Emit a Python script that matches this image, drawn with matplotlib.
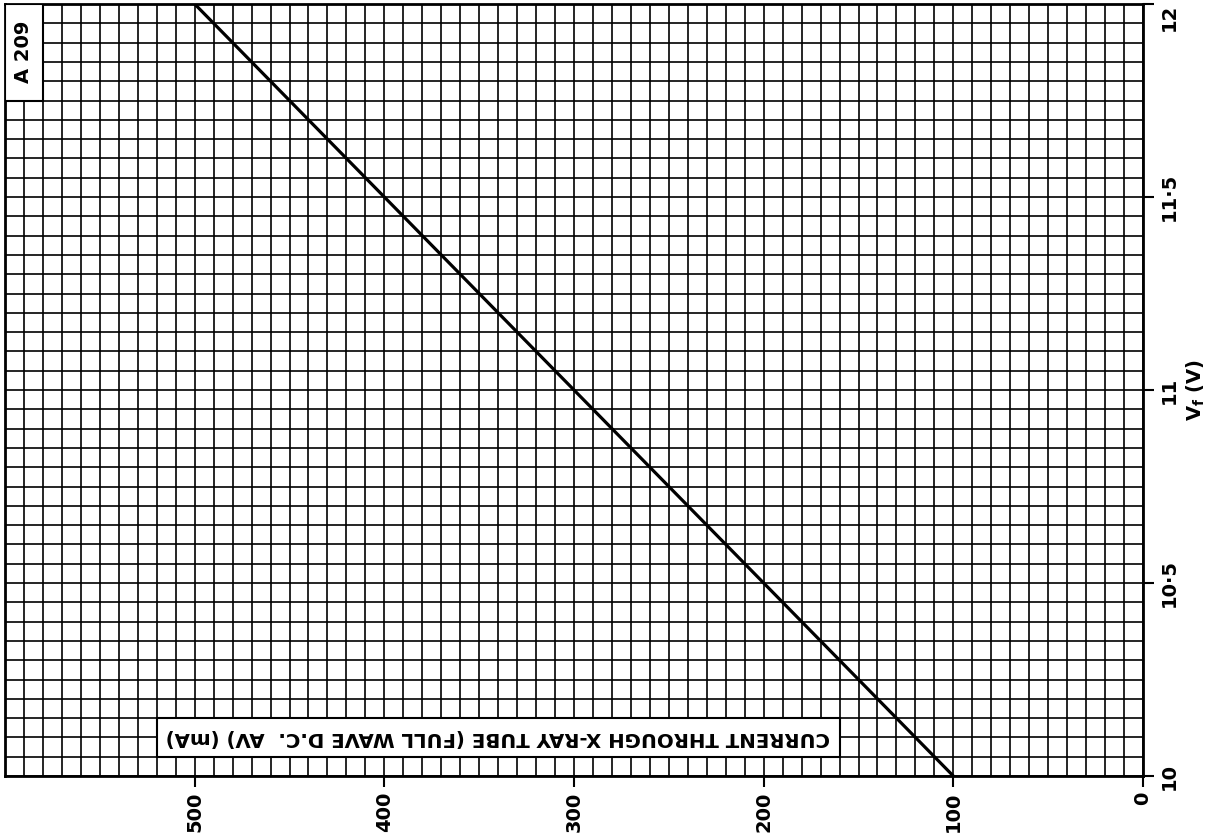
import matplotlib
matplotlib.use("Agg")
import matplotlib.pyplot as plt
from matplotlib.ticker import MultipleLocator, FixedLocator
from matplotlib.patches import Rectangle

# Data (chart is printed rotated 90 degrees: Vf runs up the right side,
# current runs right-to-left along the bottom)
vf_volts = [10.0, 10.5, 11.0, 11.5, 12.0]
current_ma = [100, 200, 300, 400, 500]

current_ticks = [0, 100, 200, 300, 400, 500]
current_ticklabels = ["0", "100", "200", "300", "400", "500"]
vf_ticks = [10.0, 10.5, 11.0, 11.5, 12.0]
vf_ticklabels = ["10", "10·5", "11", "11·5", "12"]

title_text = "CURRENT THROUGH X-RAY TUBE (FULL WAVE D.C.  AV) (mA)"
vf_label = "V$_\\mathbf{f}$ (V)"
code_label = "A 209"

W, H = 1222, 840
fig = plt.figure(figsize=(W / 100, H / 100), dpi=100)
ax = fig.add_axes([5 / W, 1 - 776 / H, (1143 - 5) / W, (776 - 4) / H])

ax.set_xlim(600, 0)
ax.set_ylim(10, 12)

ax.xaxis.set_major_locator(FixedLocator(current_ticks))
ax.xaxis.set_minor_locator(MultipleLocator(10))
ax.yaxis.set_major_locator(FixedLocator(vf_ticks))
ax.yaxis.set_minor_locator(MultipleLocator(0.05))
ax.grid(which="both", color="black", lw=1.2, zorder=1)
ax.set_axisbelow(True)

ax.yaxis.tick_right()
ax.yaxis.set_label_position("right")

font = dict(family="DejaVu Sans", weight="bold")
ax.set_xticks(current_ticks)
ax.set_xticklabels(current_ticklabels, rotation=90, fontsize=14, **font)
ax.set_yticks(vf_ticks)
ylabels = ax.set_yticklabels(vf_ticklabels, rotation=90, fontsize=14, va="center", **font)
ylabels[-1].set_va("top")

ax.tick_params(which="major", direction="out", length=8, width=1.5, color="black")
ax.tick_params(axis="x", which="major", pad=3)
ax.tick_params(axis="y", which="major", pad=4)
ax.tick_params(which="minor", length=0)

for s in ax.spines.values():
    s.set_linewidth(2.0)
    s.set_color("black")

ax.plot(current_ma, vf_volts, color="black", lw=2.3, zorder=4, solid_capstyle="butt")

# Title box (printed upside down)
ax.add_patch(Rectangle((160, 10.05), 360, 0.10, facecolor="white",
                       edgecolor="black", lw=1.5, zorder=3))
ax.text(340, 10.1, title_text, rotation=180, ha="center", va="center",
        fontsize=14.2, zorder=5, **font)

# Code box
ax.add_patch(Rectangle((580, 11.75), 20, 0.25, facecolor="white",
                       edgecolor="black", lw=1.5, zorder=3))
ax.text(590, 11.875, code_label, rotation=90, ha="center", va="center",
        fontsize=14, zorder=5, **font)

ax.set_ylabel(vf_label, rotation=90, fontsize=14, labelpad=4, **font)

fig.savefig("out.png", dpi=100, facecolor="white")
